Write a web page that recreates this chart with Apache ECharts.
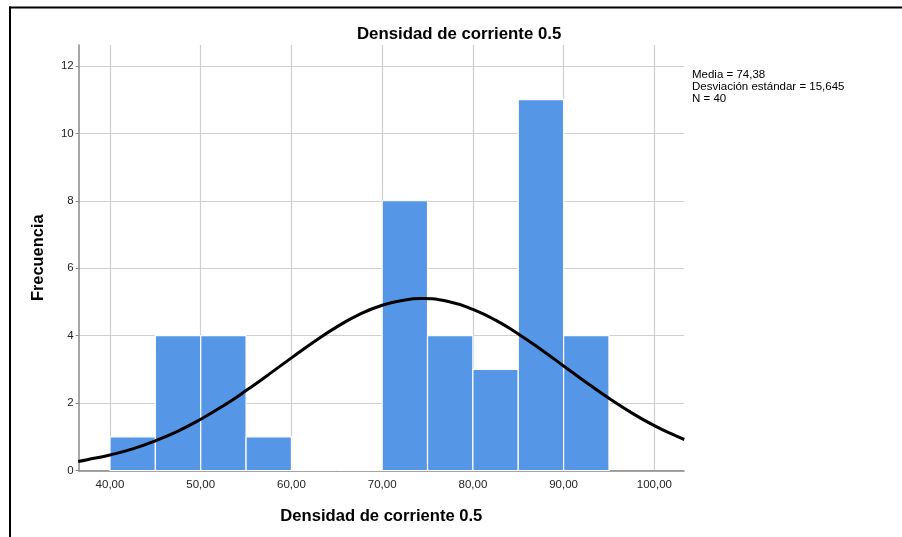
<!DOCTYPE html>
<html>
<head>
<meta charset="utf-8">
<script src="https://cdn.jsdelivr.net/npm/echarts@6/dist/echarts.min.js"></script>
<style>html,body{margin:0;padding:0;background:#fff}#c{width:902px;height:537px}</style>
</head>
<body>
<div id="c"></div>
<script>
// Histogram data (bin width 5)
var binStarts = [40, 45, 50, 55, 60, 65, 70, 75, 80, 85, 90];
var binWidth = 5;
var counts = [1, 4, 4, 1, 0, 0, 8, 4, 3, 11, 4];
// Normal curve points
var curveX = [36.5, 37.5, 40, 42.5, 45, 47.5, 50, 52.5, 55, 57.5, 60, 62.5, 65, 67.5, 70, 72.5, 74.38, 77.5, 80, 82.5, 85, 87.5, 90, 92.5, 95, 97.5, 100, 102.5, 103.3];
var curveY = [0.27, 0.32, 0.46, 0.64, 0.88, 1.17, 1.52, 1.92, 2.37, 2.85, 3.34, 3.82, 4.26, 4.63, 4.90, 5.06, 5.10, 5.00, 4.78, 4.46, 4.05, 3.59, 3.10, 2.61, 2.14, 1.71, 1.33, 1.01, 0.92];
var xTicks = [40, 50, 60, 70, 80, 90, 100];
var yTicks = [0, 2, 4, 6, 8, 10, 12];
var titleText = 'Densidad de corriente 0.5';
var xName = 'Densidad de corriente 0.5';
var yName = 'Frecuencia';
var statsLines = ['Media = 74,38', 'Desviación estándar = 15,645', 'N = 40'];

var barData = binStarts.map(function (s, i) { return [s, s + binWidth, counts[i]]; });
var curveData = curveX.map(function (x, i) { return [x, curveY[i]]; });

var chart = echarts.init(document.getElementById('c'));
var font = 'Liberation Sans, Arial, sans-serif';
chart.setOption({
  animation: false,
  backgroundColor: '#fff',
  title: {
    text: titleText, left: 352, top: 21,
    textStyle: { fontFamily: font, fontSize: 16.8, fontWeight: 'bold', color: '#000' }
  },
  grid: { left: 78.7, right: 218, top: 45, bottom: 66.5, containLabel: false },
  xAxis: {
    type: 'value', min: 36.55, max: 103.27,
    name: xName, nameLocation: 'middle', nameGap: 37,
    nameTextStyle: { fontFamily: font, fontSize: 16.6, fontWeight: 'bold', color: '#000' },
    axisLine: { show: true, lineStyle: { color: '#888', width: 1.5 } },
    axisTick: { show: false, customValues: xTicks },
    axisLabel: { customValues: xTicks, fontFamily: font, fontSize: 11.5, color: '#222', margin: 8,
      formatter: function (v) { return v.toFixed(2).replace('.', ','); } },
    splitLine: { show: true, lineStyle: { color: '#cfcfcf', width: 1.2 } }
  },
  yAxis: {
    type: 'value', min: 0, max: 12.62,
    name: yName, nameLocation: 'middle', nameGap: 32, nameRotate: 90,
    nameTextStyle: { fontFamily: font, fontSize: 16.4, fontWeight: 'bold', color: '#000' },
    axisLine: { show: true, lineStyle: { color: '#888', width: 1.5 } },
    axisTick: { show: true, length: 3, customValues: yTicks, lineStyle: { color: '#888' } },
    axisLabel: { customValues: yTicks, fontFamily: font, fontSize: 11.5, color: '#222', margin: 5 },
    splitLine: { show: true, lineStyle: { color: '#cfcfcf', width: 1.2 } }
  },
  graphic: [
    { type: 'line', shape: { x1: 9, y1: 7.5, x2: 902, y2: 7.5 }, style: { stroke: '#000', lineWidth: 2 } },
    { type: 'line', shape: { x1: 10, y1: 6.5, x2: 10, y2: 537 }, style: { stroke: '#000', lineWidth: 2 } },
    { type: 'text', left: 692, top: 68.5, style: { text: statsLines.join('\n'), font: '11.5px ' + font, fill: '#000', lineHeight: 12 } }
  ],
  series: [
    {
      type: 'custom',
      data: barData,
      encode: { x: [0, 1], y: 2 },
      renderItem: function (params, api) {
        var p0 = api.coord([api.value(0), api.value(2)]);
        var p1 = api.coord([api.value(1), 0]);
        return {
          type: 'rect',
          shape: { x: p0[0], y: p0[1], width: p1[0] - p0[0], height: p1[1] - p0[1] },
          style: { fill: '#5596e6', stroke: '#ffffff', lineWidth: 1.2 }
        };
      }
    },
    {
      type: 'line', data: curveData, smooth: true, showSymbol: false, symbol: 'none',
      lineStyle: { color: '#000', width: 3 }, z: 5
    }
  ]
});
</script>
</body>
</html>
